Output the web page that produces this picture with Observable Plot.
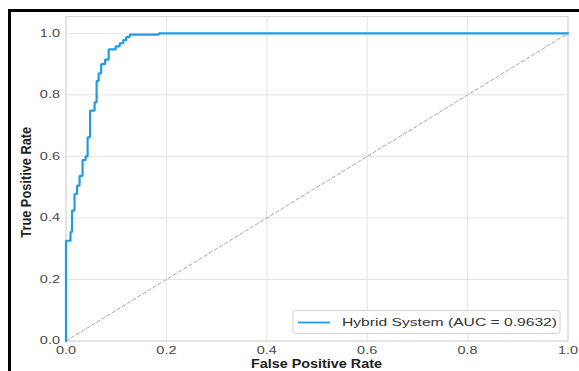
<!DOCTYPE html>
<html>
<head>
<meta charset="utf-8">
<script src="https://cdn.jsdelivr.net/npm/d3@7"></script>
<script src="https://cdn.jsdelivr.net/npm/@observablehq/plot@0.6"></script>
<style>
  html, body { margin: 0; padding: 0; background: #fff; }
  #wrap { position: relative; width: 579px; height: 371px; overflow: hidden; background: #fff; }
  #chart { position: absolute; left: 0; top: 0; }
  #border { position: absolute; left: 8px; top: 9px; width: 700px; height: 500px;
            border-left: 3px solid #000; border-top: 3px solid #000; pointer-events: none; }
</style>
</head>
<body>
<div id="wrap"><div id="chart"></div><div id="border"></div></div>
<script>
// ---- data ----
const fpr = [0, 0, 0.009, 0.009, 0.012, 0.012, 0.017, 0.017, 0.022, 0.022, 0.027, 0.027,
  0.033, 0.033, 0.039, 0.039, 0.043, 0.043, 0.048, 0.048, 0.057, 0.057, 0.061, 0.061,
  0.065, 0.065, 0.070, 0.070, 0.078, 0.078, 0.085, 0.085, 0.099, 0.099, 0.107, 0.107,
  0.114, 0.114, 0.120, 0.120, 0.127, 0.127, 0.185, 0.185, 1.0];
const tpr = [0, 0.326, 0.326, 0.354, 0.354, 0.424, 0.424, 0.478, 0.478, 0.505, 0.505, 0.537,
  0.537, 0.588, 0.588, 0.600, 0.600, 0.662, 0.662, 0.749, 0.749, 0.776, 0.776, 0.845,
  0.845, 0.870, 0.870, 0.900, 0.900, 0.915, 0.915, 0.948, 0.948, 0.958, 0.958, 0.968,
  0.968, 0.978, 0.978, 0.988, 0.988, 0.996, 0.996, 1.0, 1.0];
const diagX = [0, 1];
const diagY = [0, 1];
const xTicks = [0, 0.2, 0.4, 0.6, 0.8, 1.0];
const yTicks = [0, 0.2, 0.4, 0.6, 0.8, 1.0];
const seriesName = "Hybrid System (AUC = 0.9632)";
const xLabel = "False Positive Rate";
const yLabel = "True Positive Rate";

const roc = fpr.map((x, i) => ({x, y: tpr[i]}));
const diag = diagX.map((x, i) => ({x, y: diagY[i]}));
const blue = "#229ce0";

const plot = Plot.plot({
  width: 579, height: 371,
  marginLeft: 65.5, marginRight: 11.5, marginTop: 16, marginBottom: 30.5,
  style: {fontFamily: "'Liberation Sans', Arial, sans-serif", fontSize: "10.5px", background: "transparent"},
  x: {domain: [0, 1]},
  y: {domain: [0, 1.055]},
  marks: [
    Plot.gridX(xTicks, {stroke: "#e4e4e4", strokeOpacity: 1}),
    Plot.gridY(yTicks, {stroke: "#e4e4e4", strokeOpacity: 1}),
    Plot.frame({stroke: "#d6d6d6"}),
    Plot.axisX(xTicks, {tickSize: 0, tickPadding: 6, tickFormat: d3.format(".1f"), fill: "#4a4a4a", label: null}),
    Plot.axisY(yTicks, {tickSize: 0, tickPadding: 6, tickFormat: d3.format(".1f"), fill: "#4a4a4a", label: null}),
    Plot.line(diag, {x: "x", y: "y", stroke: "#a8a8a8", strokeWidth: 1, strokeDasharray: "3.5,2.5"}),
    Plot.line(roc, {x: "x", y: "y", stroke: blue, strokeWidth: 2.2, strokeLinejoin: "miter"})
  ]
});
document.getElementById("chart").appendChild(plot);

function stretch(el, f) {
  const w = el.getComputedTextLength();
  el.setAttribute("textLength", (w * f).toFixed(2));
  el.setAttribute("lengthAdjust", "spacingAndGlyphs");
}
d3.select(plot).selectAll("g[aria-label$='tick label'] text").each(function() { stretch(this, 1.38); });

const svg = d3.select(plot);
const sx = plot.scale("x"), sy = plot.scale("y");
const cx = (sx.apply(0) + sx.apply(1)) / 2;
const cy = (sy.apply(0) + sy.apply(1.055)) / 2;

// axis labels
const xl = svg.append("text").attr("x", cx).attr("y", 368).attr("text-anchor", "middle")
  .attr("font-weight", "bold").attr("font-size", "12.6px").attr("fill", "#1e1e1e").text(xLabel);
stretch(xl.node(), 1.14);
svg.append("text").attr("transform", `translate(31,${cy + 4}) scale(1.2,1) rotate(-90)`)
  .attr("text-anchor", "middle").attr("font-weight", "bold").attr("font-size", "12.8px")
  .attr("fill", "#1e1e1e").text(yLabel);

// legend
const lg = svg.append("g");
lg.append("rect").attr("x", 293).attr("y", 310.5).attr("width", 267).attr("height", 23)
  .attr("rx", 2.5).attr("fill", "#fff").attr("fill-opacity", 0.9).attr("stroke", "#d2d2d2");
lg.append("line").attr("x1", 298).attr("x2", 330).attr("y1", 322.5).attr("y2", 322.5)
  .attr("stroke", blue).attr("stroke-width", 1.8);
const lt = lg.append("text").attr("x", 342).attr("y", 322.5).attr("dy", "0.35em")
  .attr("text-anchor", "start")
  .attr("font-size", "11px").attr("fill", "#333").text(seriesName);
stretch(lt.node(), 215 / lt.node().getComputedTextLength());
</script>
</body>
</html>
